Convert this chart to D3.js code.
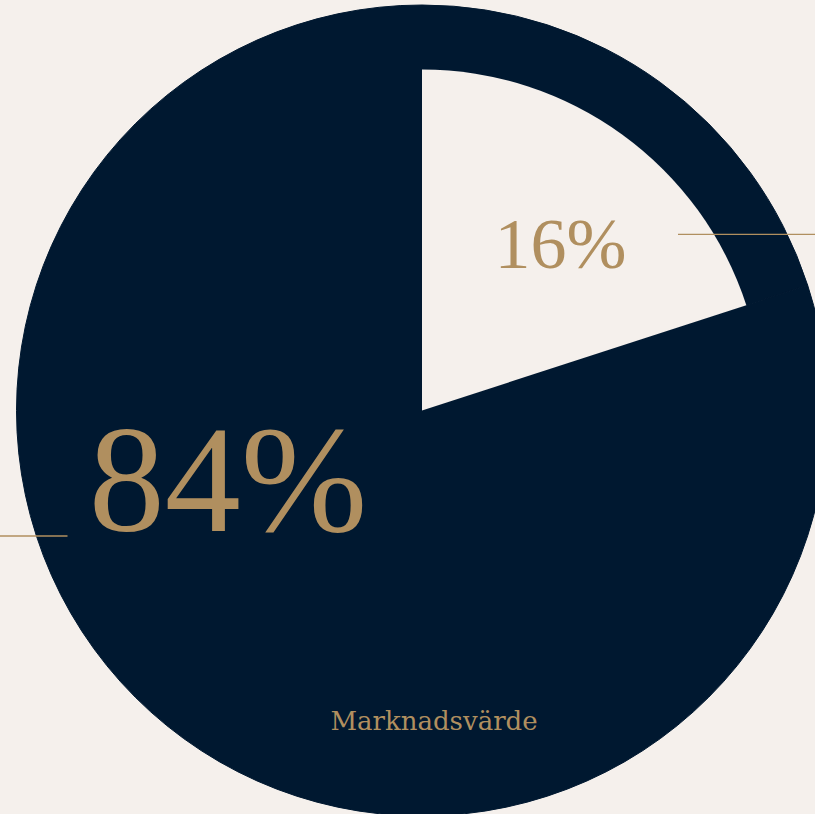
<!DOCTYPE html>
<html>
<head>
<meta charset="utf-8">
<script src="https://cdn.jsdelivr.net/npm/d3@7"></script>
<style>
  html, body { margin: 0; padding: 0; background: #f5f0ec; }
  svg { display: block; }
</style>
</head>
<body>
<svg id="chart" width="815" height="814"></svg>
<script>
// Data
const categories = ["Övrigt", "Marknadsvärde"];
const sliceShares = [20, 80];          // angular share as drawn
const sliceLabels = ["16%", "84%"];    // printed labels
const captionText = "Marknadsvärde";

const W = 815, H = 814;
const bg = "#f5f0ec", navy = "#001830", gold = "#b08f5f";
const cx = 422, cy = 410.5, R = 406, rInner = 341;

const svg = d3.select("#chart");
svg.append("rect").attr("width", W).attr("height", H).attr("fill", bg);

const g = svg.append("g").attr("transform", `translate(${cx},${cy})`);

const pie = d3.pie().sort(null).startAngle(0).endAngle(2 * Math.PI);
const arcs = pie(sliceShares);

const outerArc = d3.arc().innerRadius(0).outerRadius(R - 0.5);
const innerArc = d3.arc().innerRadius(0).outerRadius(rInner);

g.selectAll("path.outer")
  .data(arcs)
  .join("path")
  .attr("class", "outer")
  .attr("d", outerArc)
  .attr("fill", navy)
  .attr("stroke", navy)
  .attr("stroke-width", 1);

g.selectAll("path.inner")
  .data(arcs.slice(0, 1))
  .join("path")
  .attr("class", "inner")
  .attr("d", innerArc)
  .attr("fill", bg);

// Leader lines
svg.append("line")
  .attr("x1", 678).attr("x2", W).attr("y1", 234.3).attr("y2", 234.3)
  .attr("stroke", gold).attr("stroke-width", 1.3);
svg.append("line")
  .attr("x1", 0).attr("x2", 67.5).attr("y1", 536).attr("y2", 536)
  .attr("stroke", gold).attr("stroke-width", 1.3);

// Labels
const labelPos = [
  { x: 560.5, y: 268, size: 72 },
  { x: 228, y: 531, size: 152 }
];
svg.selectAll("text.pct")
  .data(sliceLabels)
  .join("text")
  .attr("class", "pct")
  .attr("x", (d, i) => labelPos[i].x)
  .attr("y", (d, i) => labelPos[i].y)
  .attr("text-anchor", "middle")
  .attr("font-family", "'Liberation Serif', 'Times New Roman', serif")
  .attr("font-size", (d, i) => labelPos[i].size)
  .attr("fill", gold)
  .text(d => d);

svg.append("text")
  .attr("x", 434).attr("y", 730)
  .attr("text-anchor", "middle")
  .attr("font-family", "'DejaVu Serif', serif")
  .attr("font-size", 26)
  .attr("fill", gold)
  .text(captionText);
</script>
</body>
</html>
